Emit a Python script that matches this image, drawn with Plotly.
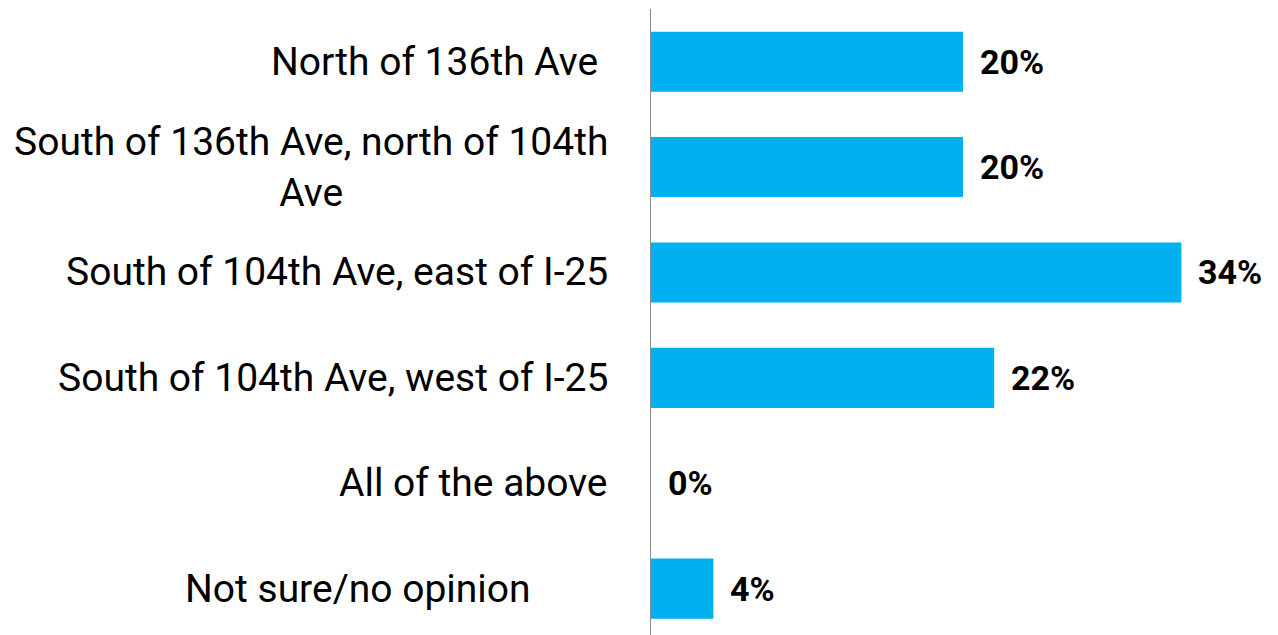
import plotly.graph_objects as go

# Survey answers, top to bottom
categories = [
    "North of 136th Ave\u00a0",
    "South of 136th Ave, north of 104th<br>Ave",
    "South of 104th Ave, east of I-25",
    "South of 104th Ave, west of I-25",
    "All of the above",
    "Not sure/no opinion" + "\u00a0" * 8,
]
values = [20, 20, 34, 22, 0, 4]
value_labels = ["20%", "20%", "34%", "22%", "0%", "4%"]

BLUE = "#00B0F0"
FONT = "Roboto"

fig = go.Figure()

fig.add_trace(
    go.Bar(
        x=values,
        y=list(range(len(values))),
        orientation="h",
        marker=dict(color=BLUE, line=dict(width=0)),
        width=0.57,
        hoverinfo="skip",
    )
)

# category labels to the left of the axis
for i, cat in enumerate(categories):
    fig.add_annotation(
        x=0, y=i, xref="paper", yref="y",
        text=cat, showarrow=False,
        xanchor="right", yanchor="middle", align="center",
        xshift=-41,
        font=dict(family=FONT, size=39, color="#000000"),
    )

# bold value labels after each bar
for i, (v, lab) in enumerate(zip(values, value_labels)):
    fig.add_annotation(
        x=v, y=i, xref="x", yref="y",
        text="<b>" + lab + "</b>", showarrow=False,
        xanchor="left", yanchor="middle",
        xshift=15,
        font=dict(family=FONT, size=34, color="#000000"),
    )

fig.update_xaxes(
    range=[0, 40],
    visible=False,
    showgrid=False,
    zeroline=False,
)
fig.update_yaxes(
    range=[5.44, -0.5],
    showticklabels=False,
    showgrid=False,
    zeroline=False,
    showline=True,
    linecolor="#8c8c8c",
    linewidth=1,
    ticks="",
)

# the page adds an 8px body margin, so the margins are trimmed by that much
fig.update_layout(
    width=1278,
    height=635,
    margin=dict(l=643, r=11, t=1, b=8),
    paper_bgcolor="white",
    plot_bgcolor="white",
    showlegend=False,
)

fig.write_html("out.html")
